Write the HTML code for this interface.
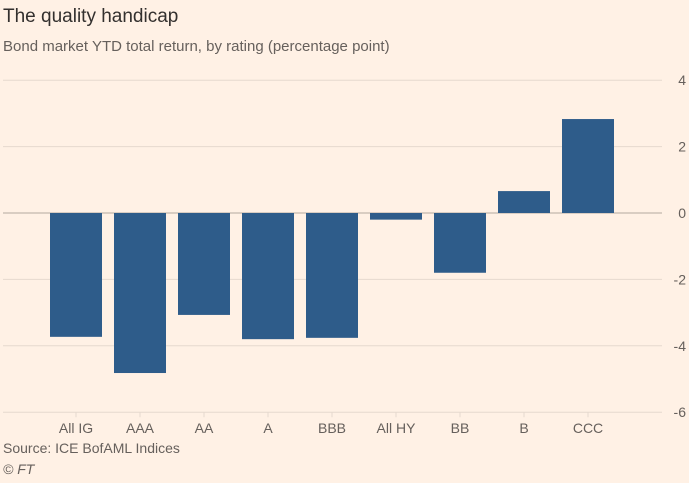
<!DOCTYPE html>
<html><head><meta charset="utf-8"><style>
body{margin:0;background:#fff1e5;width:689px;height:483px;overflow:hidden;font-family:"Liberation Sans Narrow","Liberation Sans",sans-serif}
.t{position:absolute;left:3px;top:6px;font-size:19px;color:#33302e}
.s{position:absolute;left:3px;top:38px;font-size:15px;color:#66605c}
.src{position:absolute;left:3px;top:440px;font-size:14px;color:#66605c}
.ft{position:absolute;left:3px;top:461px;font-size:14px;color:#66605c;font-style:italic}
</style></head><body>
<div class="t">The quality handicap</div>
<div class="s">Bond market YTD total return, by rating (percentage point)</div>
<svg id="c" width="689" height="483" style="position:absolute;left:0;top:0"></svg>
<div class="src">Source: ICE BofAML Indices</div>
<div class="ft">© FT</div>
<script>
const categories=["All IG","AAA","AA","A","BBB","All HY","BB","B","CCC"];
const values=[-3.73,-4.82,-3.07,-3.8,-3.76,-0.2,-1.8,0.66,2.83];
const ticks=[4,2,0,-2,-4,-6];
const NS="http://www.w3.org/2000/svg";
const svg=document.getElementById('c');
function y(v){return 213-v*33.2;}
function x(i){return 76+i*64;}
function mk(t,a){const e=document.createElementNS(NS,t);for(const k in a)e.setAttribute(k,a[k]);svg.appendChild(e);return e;}
ticks.forEach(t=>{
const l=mk('line',{x1:3,x2:662,y1:y(t),y2:y(t),stroke:t===0?'#b3a9a0':'#e6d9ce','stroke-width':1});


const tx=mk('text',{x:686,y:y(t)+5,'text-anchor':'end','font-size':14,fill:'#66605c'});
tx.textContent=t;


});
categories.forEach((c,i)=>{
const v=values[i];
const r=mk('rect',{x:x(i)-26,width:52,y:Math.min(y(v),y(0)),height:Math.abs(y(v)-y(0)),fill:'#2e5c8a'});


const tk=mk('line',{x1:x(i),x2:x(i),y1:y(-6),y2:y(-6)+5,stroke:'#e6d9ce'});


const tx=mk('text',{x:x(i),y:433,'text-anchor':'middle','font-size':14,fill:'#66605c'});
tx.textContent=c;


});
</script>
</body></html>
